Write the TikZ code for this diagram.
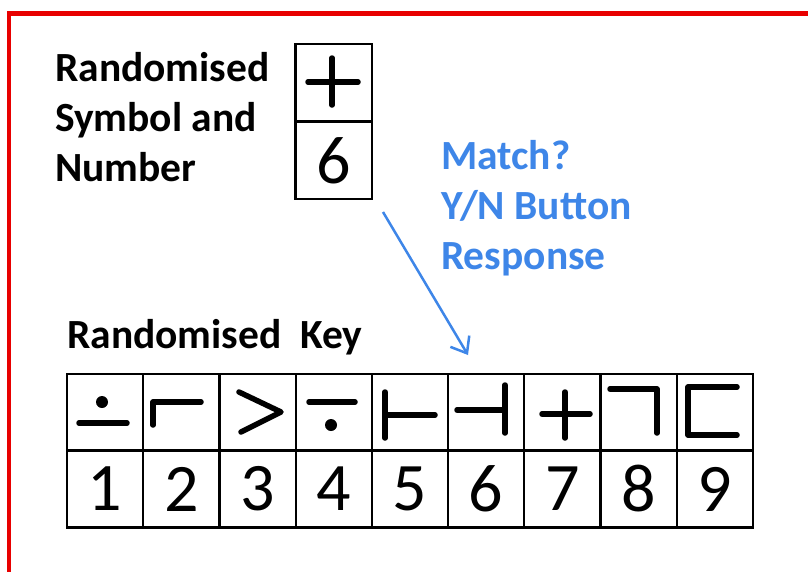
\documentclass[tikz,border=0pt]{standalone}
\usepackage{fontspec}
\setmainfont{Carlito}
\usetikzlibrary{arrows.meta}
\usepackage{xcolor}
\definecolor{matchblue}{RGB}{62,134,232}
\definecolor{framered}{RGB}{232,0,0}

\begin{document}
\begin{tikzpicture}[x=1pt, y=-1pt,
    cell/.style={rectangle, draw, line width=2.2pt, minimum width=76.2pt, minimum height=77pt, inner sep=0pt},
    digit/.style={font=\fontsize{68}{80}\selectfont},
    textlabel/.style={font=\bfseries\fontsize{41.5}{50}\selectfont, inner sep=0pt, align=left},
    glyph/.style={line width=5.5pt, line cap=round, line join=round}]
    \useasboundingbox[fill=white] (0,0) rectangle (808,571);

    % Frame
    \draw[framered, line width=4.5pt] (812,13.5) -- (9,13.5) -- (9,575);

    % Randomised symbol and number
    \node[textlabel, anchor=north west] (trial) at (55,52) {Randomised\\Symbol and\\Number};
    \node[cell] (trialsym) at (333.5,82.5) {};
    \node[cell, digit] (trialnum) at (333.5,160.5) {6};
    \draw[glyph] (308,82) -- (358,82);
    \draw[glyph] (332,58) -- (332,105);

    % Response
    \node[textlabel, anchor=north west, text=matchblue] (response) at (441,140) {Match?\\Y/N Button\\Response};
    \coordinate (arrowtail) at (383,212);
    \coordinate (arrowtip) at (468,355);
    \draw[matchblue, line width=2.5pt, -{Straight Barb[length=14pt,width=22pt]}] (arrowtail) -- (arrowtip);

    % Randomised key
    \node[textlabel, anchor=base west] (keylabel) at (67,348) {Randomised\ \ Key};
    \foreach \i in {1,...,9} {
        \node[cell] (sym\i) at ({67+76.2*(\i-0.5)},412.5) {};
        \node[cell, digit] (num\i) at ({67+76.2*(\i-0.5)},489) {\i};
    }

    % Key symbols
    \fill (102,402) circle (6pt);
    \draw[glyph] (79,423) -- (127,423);
    \draw[glyph] (153,425) -- (153,402) -- (201,402);
    \draw[glyph] (239,392) -- (281,412) -- (241,432);
    \draw[glyph] (309,402) -- (355,402);
    \fill (331,425) circle (6pt);
    \draw[glyph] (385,392) -- (385,438);
    \draw[glyph] (385,415) -- (435,415);
    \draw[glyph] (505,385) -- (505,433);
    \draw[glyph] (457,410) -- (505,410);
    \draw[glyph] (542,414) -- (590,414);
    \draw[glyph] (565,392) -- (565,438);
    \draw[glyph] (610,389) -- (657,389) -- (657,433);
    \draw[glyph] (737,387) -- (688,387) -- (688,435) -- (737,435);
\end{tikzpicture}
\end{document}
